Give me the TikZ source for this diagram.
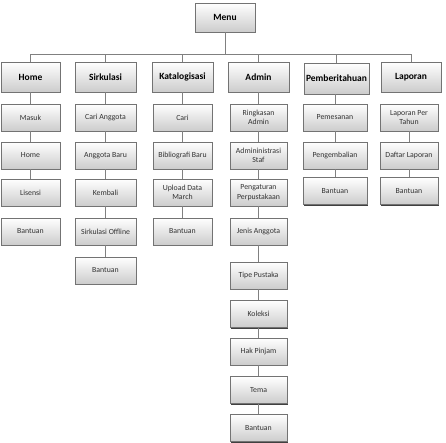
\documentclass[tikz,border=0pt]{standalone}
\usepackage{fontspec}
\setmainfont{Carlito}
\usetikzlibrary{shadows}
\begin{document}
\begin{tikzpicture}[x=1pt,y=-1pt,
  box/.style={draw=black!55, line width=0.5pt, top color=white, bottom color=black!20,
    drop shadow={shadow xshift=1.3pt, shadow yshift=-1.3pt, fill=black!75, opacity=1},
    inner sep=1pt, align=center, text=black!80},
  head/.style={box, minimum height=30pt, font=\fontsize{9.5}{11}\selectfont\bfseries, text=black},
  sub/.style={box, minimum height=27pt, font=\fontsize{7.8}{9.4}\selectfont},
  link/.style={draw=black!50, line width=0.6pt}]
\useasboundingbox[fill=white] (0,0) rectangle (446,442);

% top
\node[head, minimum width=60pt, minimum height=29pt] (menu) at (225,17.5) {Menu};
\coordinate (bus) at (225,54);

% level 1
\node[head, minimum width=59pt] (home) at (30.5,77) {Home};
\node[head, minimum width=61pt] (sirk) at (105.5,77) {Sirkulasi};
\node[head, minimum width=61pt] (katal) at (182.5,77) {Katalogisasi};
\node[head, minimum width=61pt] (admin) at (258.5,77) {Admin};
\node[head, minimum width=65pt, minimum height=31pt, inner sep=0pt] (pember) at (336.5,78.5) {Pemberitahuan};
\node[head, minimum width=60pt] (lapor) at (411,77) {Laporan};

% Home column
\node[sub, minimum width=59pt] (h1) at (30.5,117.5) {Masuk};
\node[sub, minimum width=59pt] (h2) at (30.5,155.5) {Home};
\node[sub, minimum width=59pt] (h3) at (30.5,192.5) {Lisensi};
\node[sub, minimum width=59pt] (h4) at (30.5,231.5) {Bantuan};

% Sirkulasi column
\node[sub, minimum width=61pt] (s1) at (105.5,117.5) {Cari Anggota};
\node[sub, minimum width=61pt] (s2) at (105.5,155.5) {Anggota Baru};
\node[sub, minimum width=61pt] (s3) at (105.5,192.5) {Kembali};
\node[sub, minimum width=61pt] (s4) at (105.5,231.5) {Sirkulasi Offline};
\node[sub, minimum width=61pt] (s5) at (105.5,270.5) {Bantuan};

% Katalogisasi column
\node[sub, minimum width=59pt] (k1) at (182.5,117.5) {Cari};
\node[sub, minimum width=59pt] (k2) at (182.5,155.5) {Bibliografi Baru};
\node[sub, minimum width=59pt] (k3) at (182.5,192.5) {Upload Data\\March};
\node[sub, minimum width=59pt] (k4) at (182.5,231.5) {Bantuan};

% Admin column
\node[sub, minimum width=57pt] (a1) at (258.5,117.5) {Ringkasan\\Admin};
\node[sub, minimum width=57pt] (a2) at (258.5,155.5) {Admininistrasi\\Staf};
\node[sub, minimum width=57pt] (a3) at (258.5,192.5) {Pengaturan\\Perpustakaan};
\node[sub, minimum width=57pt] (a4) at (258.5,231.5) {Jenis Anggota};
\node[sub, minimum width=57pt] (a5) at (258.5,275.5) {Tipe Pustaka};
\node[sub, minimum width=57pt] (a6) at (258.5,314) {Koleksi};
\node[sub, minimum width=57pt] (a7) at (258.5,351.5) {Hak Pinjam};
\node[sub, minimum width=57pt] (a8) at (258.5,390) {Tema};
\node[sub, minimum width=57pt] (a9) at (258.5,428) {Bantuan};

% Pemberitahuan column
\node[sub, minimum width=64pt] (p1) at (335,117.5) {Pemesanan};
\node[sub, minimum width=64pt] (p2) at (335,155.5) {Pengembalian};
\node[sub, minimum width=64pt] (p3) at (335,191) {Bantuan};

% Laporan column
\node[sub, minimum width=58pt] (l1) at (409,117.5) {Laporan Per\\Tahun};
\node[sub, minimum width=58pt] (l2) at (409,155.5) {Daftar Laporan};
\node[sub, minimum width=58pt] (l3) at (409,191) {Bantuan};

% bus
\path[link] (menu.south) -- (bus);
\path[link] (home.north) -- (home.north |- bus) -- (lapor.north |- bus) -- (lapor.north);
\path[link] (sirk.north) -- (sirk.north |- bus);
\path[link] (katal.north) -- (katal.north |- bus);
\path[link] (admin.north) -- (admin.north |- bus);
\path[link] (pember.north) -- (pember.north |- bus);

% columns
\path[link] (home) -- (h1);
\path[link] (h1) -- (h2);
\path[link] (h2) -- (h3);

\path[link] (sirk) -- (s1);
\path[link] (s1) -- (s2);
\path[link] (s2) -- (s3);
\path[link] (s3) -- (s4);
\path[link] (s4) -- (s5);

\path[link] (katal) -- (k1);
\path[link] (k1) -- (k2);
\path[link] (k2) -- (k3);
\path[link] (k3) -- (k4);

\path[link] (admin) -- (a1);
\path[link] (a1) -- (a2);
\path[link] (a2) -- (a3);
\path[link] (a3) -- (a4);
\path[link] (a4) -- (a5);
\path[link] (a5) -- (a6);
\path[link] (a6) -- (a7);
\path[link] (a7) -- (a8);
\path[link] (a8) -- (a9);

\path[link] (pember.south -| p1) -- (p1);
\path[link] (p1) -- (p2);
\path[link] (p2) -- (p3);

\path[link] (l1) -- (l2);
\path[link] (l2) -- (l3);
\end{tikzpicture}
\end{document}
